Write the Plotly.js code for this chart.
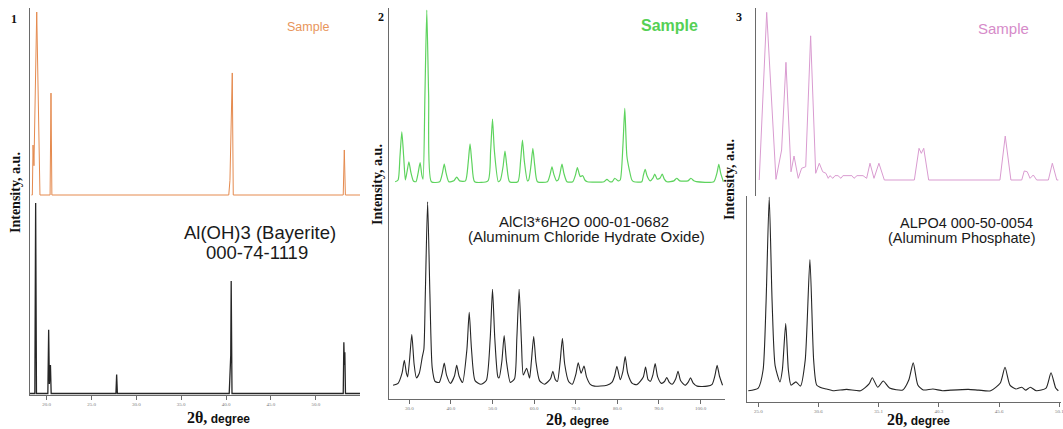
<!DOCTYPE html>
<html>
<head>
<meta charset="utf-8">
<script src="https://cdn.plot.ly/plotly-3.0.1.min.js"></script>
<style>html,body{margin:0;padding:0;background:#fff;}#chart{width:1063px;height:429px;}</style>
</head>
<body>
<div id="chart"></div>
<script>
// ---------- Panel 1: Al(OH)3 (Bayerite) ----------
const p1SampleX = [18.3, 18.4, 18.48, 18.58, 18.89, 19.12, 19.25, 20.38, 20.48, 20.58, 40.3, 40.43, 40.69, 40.8, 53.06, 53.18, 53.3, 54.93];
const p1SampleY = [0, 0, 27.3, 16, 100, 38, 0, 0, 55.7, 0, 0, 8, 66.7, 0, 0, 24.6, 0, 0];
const p1RefX = [18.14, 18.68, 18.77, 18.86, 20.13, 20.22, 20.3, 20.42, 20.5, 27.72, 27.8, 27.88, 40.35, 40.45, 40.52, 40.57, 40.66, 53.06, 53.13, 53.19, 53.24, 53.31, 54.93];
const p1RefY = [0, 0, 100, 0, 0, 33.5, 5, 14.9, 0, 0, 10, 0, 0, 16.7, 20, 59, 0, 0, 26.9, 15, 21.7, 0, 0];
const p1Ticks = [20, 25, 30, 35, 40, 45, 50];
const p1TickText = ["20.0", "25.0", "30.0", "35.0", "40.0", "45.0", "50.0"];

// ---------- Panel 2: AlCl3*6H2O ----------
const p2SampleX = [26.6, 27.3, 27.75, 28.2, 28.65, 29.05, 29.45, 29.9, 30.35, 31.0, 31.6, 32.15, 32.6, 33.0, 33.3, 33.75, 34.2, 34.65, 35.3, 37.3, 37.95, 38.4, 38.85, 39.5, 40.7, 41.4, 42.1, 43.5, 44.15, 44.6, 45.05, 45.7, 48.9, 49.55, 50.0, 50.45, 51.4, 51.9, 52.55, 53.0, 53.45, 54.1, 56.1, 56.75, 57.2, 57.65, 58.4, 58.7, 59.25, 59.7, 60.15, 60.8, 63.2, 63.85, 64.3, 64.75, 65.4, 65.8, 66.25, 66.7, 67.15, 67.9, 69.3, 69.95, 70.4, 70.85, 71.1, 71.7, 72.2, 72.8, 76.8, 77.5, 78.2, 78.8, 79.4, 80.2, 80.7, 81.35, 81.8, 82.3, 82.9, 83.5, 84.0, 85.9, 86.25, 86.7, 87.15, 87.9, 88.6, 89.0, 89.6, 90.3, 90.8, 91.3, 91.9, 93.6, 94.3, 95.0, 97.0, 97.7, 98.4, 99.0, 103.2, 103.95, 104.4, 104.85, 105.5];
const p2SampleY = [0, 1, 14.5, 29.1, 14.5, 1, 5.8, 11.6, 5.8, 0.4, 0, 5.5, 11.1, 4, 1.5, 50, 100, 50, 0, 0, 5, 10.3, 5, 0, 0.5, 2.7, 0.5, 0.5, 11, 22, 11, 0, 0.5, 18, 36.5, 18, 0, 1, 9, 17.9, 9, 0, 0, 12, 24.3, 12, 0.5, 1, 9.5, 19.5, 9.5, 0, 0, 4.3, 8.7, 4.3, 0.5, 1, 5, 10.3, 5, 0, 0, 4, 8.2, 4.5, 3, 3.5, 1, 0, 0, 1.4, 0, 0, 2, 0.5, 1, 21, 42.7, 15, 6.8, 1, 0, 0, 3.5, 7.2, 3.5, 0.5, 2.2, 4.5, 1.5, 2.2, 4.5, 1.5, 0, 0.5, 2, 0.5, 0.5, 2, 0.5, 0, 0, 5, 10.1, 5, 0];
const p2RefX = [26.1, 27.3, 28.25, 28.8, 29.3, 29.6, 30.05, 30.6, 31.15, 31.7, 32.4, 33.1, 33.5, 33.85, 34.4, 34.95, 35.5, 36.2, 37.2, 37.85, 38.4, 38.95, 39.9, 40.85, 41.4, 41.95, 42.8, 43.85, 44.4, 44.95, 45.8, 47.2, 48.5, 49.45, 50.0, 50.55, 51.3, 51.6, 52.25, 52.8, 53.35, 54.3, 55.3, 55.85, 56.4, 56.95, 57.4, 58.2, 58.9, 59.35, 59.9, 60.45, 61.3, 62.5, 63.95, 64.5, 65.1, 65.6, 66.25, 66.8, 67.35, 68.3, 69.2, 70.05, 70.6, 71.3, 72.0, 72.6, 73.5, 74.5, 77.5, 78.7, 79.35, 79.9, 80.7, 81.35, 81.9, 82.5, 83.6, 84.7, 86.25, 86.8, 87.4, 88.0, 88.55, 89.1, 89.7, 90.6, 91.35, 91.9, 92.5, 93.2, 94.05, 94.6, 95.2, 96.3, 97.05, 97.6, 98.2, 99.2, 101.6, 102.8, 103.45, 104.0, 104.55, 105.3];
const p2RefY = [0.5, 1.5, 7, 14, 7, 5, 14, 28, 12, 4.5, 7, 15.6, 20, 50, 100, 50, 10, 2.5, 2, 6.5, 12.5, 6, 1.5, 5.5, 11.3, 5.5, 2, 20, 40, 20, 3, 1, 3, 26, 52.5, 26, 5, 4.5, 13.5, 27.4, 13.5, 2, 4, 26, 52.5, 24, 6, 9.7, 4.3, 13.5, 26.9, 13, 3, 1, 4, 8.1, 3.5, 2.5, 13, 26, 12, 2.5, 1, 6.5, 12.7, 7, 10.9, 5, 1, 0, 0.5, 2, 5.5, 10.8, 3.5, 8, 16.1, 7, 1.5, 0.8, 5, 10.4, 3.5, 2.7, 6, 12.2, 5, 1.5, 2.5, 4.7, 2, 1, 4, 8.1, 3, 0.5, 2.2, 4.5, 1.8, 0, 0, 1, 5.5, 11.3, 5.5, 0.5];
const p2Ticks = [30, 40, 50, 60, 70, 80, 90, 100];
const p2TickText = ["30.0", "40.0", "50.0", "60.0", "70.0", "80.0", "90.0", "100.0"];

// ---------- Panel 3: ALPO4 ----------
const p3SampleX = [25.08, 25.70, 26.47, 26.74, 26.94, 27.30, 27.72, 27.97, 28.32, 28.60, 28.94, 29.35, 29.77, 30.07, 30.35, 30.62, 30.81, 30.95, 31.2, 31.37, 31.62, 31.87, 32.03, 32.78, 32.95, 33.2, 33.7, 34.0, 34.28, 34.61, 35.02, 35.47, 37.96, 38.35, 38.54, 38.74, 39.15, 45.07, 45.51, 45.98, 46.88, 47.09, 47.34, 47.57, 47.84, 48.12, 49.09, 49.42, 49.79, 49.92];
const p3SampleY = [0, 100, 0.4, 10, 17.9, 70.2, 4.9, 14.3, 1, 7, 7.9, 86, 4, 10, 4.9, 4, 1, 2.6, 1, 2.6, 2.6, 1, 2.6, 2.6, 1, 2.6, 2.6, 1, 10, 1, 10, 0, 0, 18.9, 15.9, 18.9, 0, 0, 26.2, 0, 0, 5.4, 4.9, 1, 3, 0, 0, 10, 0, 0];
const p3RefX = [24.17, 25.0, 25.4, 25.65, 25.91, 26.15, 26.4, 26.8, 27.0, 27.28, 27.5, 27.72, 28.13, 28.5, 28.9, 29.29, 29.6, 29.85, 30.3, 30.68, 31.2, 32.34, 33.5, 34.2, 34.47, 34.92, 35.38, 35.9, 37.0, 37.5, 37.87, 38.25, 38.7, 39.5, 40.3, 41.0, 42.44, 43.3, 44.3, 45.1, 45.49, 45.9, 46.4, 46.88, 47.2, 47.6, 48.1, 48.9, 49.31, 49.7, 49.92];
const p3RefY = [0, 1.4, 10.7, 46, 100, 46, 13, 4.6, 10.7, 34.7, 10.7, 2.9, 4.6, 2.4, 15.8, 67.7, 15.8, 3, 1.4, 0.9, 0, 0.7, 0, 3.5, 6.7, 1.8, 5, 1.4, 0.4, 5.5, 14.4, 3, 0.4, 0.9, 0, 0.3, 0.7, 0.3, 0, 4, 12.1, 2.9, 0.9, 1.8, 0.3, 1.8, 0, 1.4, 9.3, 1.4, 0];
const p3Ticks = [25, 30, 35, 40, 45, 50];
const p3TickText = ["25.0", "30.6", "35.1", "40.3", "45.6", "50.1"];

// ---------- Texts ----------
const sampleLabel = "Sample";
const yTitle = "Intensity, a.u.";
const xTitle = '<b><span style="font-family:Liberation Serif;font-size:16px">2θ,</span> degree</b>';
const refLabels = [["Al(OH)3 (Bayerite)", "000-74-1119"], ["AlCl3*6H2O 000-01-0682", "(Aluminum Chloride Hydrate Oxide)"], ["ALPO4 000-50-0054", "(Aluminum Phosphate)"]];
const panelNums = ["1", "2", "3"];

const W = 1063, H = 429;
const fx = px => px / W;
const fy = py => 1 - py / H;

const refColor = '#262626';
const traces = [
  {x: p1SampleX, y: p1SampleY, xaxis: 'x', yaxis: 'y2', mode: 'lines', line: {color: '#E58A4E', width: 1}},
  {x: p1RefX, y: p1RefY, xaxis: 'x', yaxis: 'y', mode: 'lines', line: {color: refColor, width: 1.3}},
  {x: p2SampleX, y: p2SampleY, xaxis: 'x2', yaxis: 'y4', mode: 'lines', line: {color: '#5ED35E', width: 1.2, shape: 'spline', smoothing: 0.6}},
  {x: p2RefX, y: p2RefY, xaxis: 'x2', yaxis: 'y3', mode: 'lines', line: {color: refColor, width: 1.1, shape: 'spline', smoothing: 0.6}},
  {x: p3SampleX, y: p3SampleY, xaxis: 'x3', yaxis: 'y6', mode: 'lines', line: {color: '#D99BD0', width: 1}},
  {x: p3RefX, y: p3RefY, xaxis: 'x3', yaxis: 'y5', mode: 'lines', line: {color: refColor, width: 1.1, shape: 'spline', smoothing: 0.6}}
];

const axLine = {showline: true, linecolor: '#6a6a6a', linewidth: 1, showgrid: false, zeroline: false, fixedrange: true};
const xAx = (dom, rng, anchor, tv, tt) => Object.assign({}, axLine, {
  domain: dom, range: rng, anchor: anchor, ticks: 'outside', ticklen: 4, tickcolor: '#6a6a6a', tickwidth: 1,
  tickmode: 'array', tickvals: tv, ticktext: tt, tickangle: 0, ticklabeloverflow: 'allow',
  tickfont: {size: 5, color: '#777', family: 'Liberation Serif'}
});
const yAx = (dom, rng, anchor, extra) => Object.assign({}, axLine, {
  domain: dom, range: rng, anchor: anchor, ticks: '', showticklabels: false
}, extra || {});

const ann = [];
function txt(text, px, py, size, color, family, extra) {
  ann.push(Object.assign({text: text, x: fx(px), y: fy(py), xref: 'paper', yref: 'paper', showarrow: false,
    xanchor: 'center', yanchor: 'middle', font: {size: size, color: color, family: family}}, extra || {}));
}
// panel numbers
txt('<b>' + panelNums[0] + '</b>', 14, 19, 12, '#111', 'Liberation Serif');
txt('<b>' + panelNums[1] + '</b>', 381, 17, 12, '#111', 'Liberation Serif');
txt('<b>' + panelNums[2] + '</b>', 739, 17, 12, '#111', 'Liberation Serif');
// Sample labels
txt(sampleLabel, 308, 27, 12.5, '#E8955B', 'Liberation Sans');
txt('<b>' + sampleLabel + '</b>', 669, 25, 16, '#55D055', 'Liberation Sans');
txt(sampleLabel, 1003, 28, 15, '#D68BC9', 'Liberation Sans');
// y titles
txt('<b>' + yTitle + '</b>', 15, 193, 14, '#111', 'Liberation Serif', {textangle: -90});
txt('<b>' + yTitle + '</b>', 378, 185, 14, '#111', 'Liberation Serif', {textangle: -90});
txt('<b>' + yTitle + '</b>', 729, 180, 14, '#111', 'Liberation Serif', {textangle: -90});
// x titles
txt(xTitle, 218, 417, 12, '#111', 'Liberation Sans');
txt(xTitle, 577, 419, 12, '#111', 'Liberation Sans');
txt(xTitle, 918, 419, 12, '#111', 'Liberation Sans');
// reference labels
txt(refLabels[0][0], 260, 232, 18.5, '#1a1a1a', 'Liberation Sans');
txt(refLabels[0][1], 257, 252, 18.5, '#1a1a1a', 'Liberation Sans');
txt(refLabels[1][0], 584, 221, 15, '#1a1a1a', 'Liberation Sans');
txt(refLabels[1][1], 586, 236, 15, '#1a1a1a', 'Liberation Sans');
txt(refLabels[2][0], 966, 223, 14.5, '#1a1a1a', 'Liberation Sans');
txt(refLabels[2][1], 962, 238, 14.5, '#1a1a1a', 'Liberation Sans');

const layout = {
  width: W, height: H, margin: {l: 0, r: 0, t: 0, b: 0}, showlegend: false,
  paper_bgcolor: '#ffffff', plot_bgcolor: '#ffffff',
  xaxis: xAx([fx(30), fx(360)], [18.14, 54.93], 'y', p1Ticks, p1TickText),
  yaxis: yAx([fy(395), fy(200)], [-0.8, 101.6], 'x'),
  yaxis2: yAx([fy(200), fy(8)], [-2.73, 102.2], 'x'),
  xaxis2: xAx([fx(389.3), fx(725)], [25.19, 105.89], 'y3', p2Ticks, p2TickText),
  yaxis3: yAx([fy(399), fy(200)], [-6.99, 101], 'x2'),
  yaxis4: yAx([fy(200), fy(8)], [-10.66, 101.2], 'x2'),
  xaxis3: xAx([fx(746.7), fx(1061)], [24.04, 50.14], 'y5', p3Ticks, p3TickText),
  yaxis5: yAx([fy(401.5), fy(196)], [-5.55, 100.5], 'x3'),
  yaxis6: yAx([fy(196), fy(8)], [-9.54, 102.6], 'free', {position: fx(755)}),
  annotations: ann
};

Plotly.newPlot('chart', traces, layout, {displayModeBar: false, staticPlot: true});
</script>
</body>
</html>
